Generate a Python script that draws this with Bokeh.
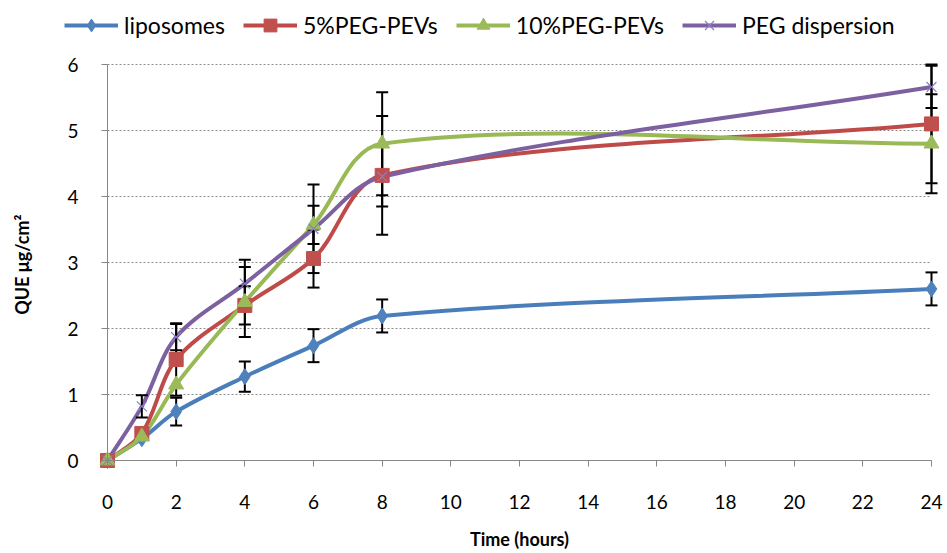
import numpy as np
from bokeh.plotting import figure
from bokeh.models import Range1d, FixedTicker, ColumnDataSource, Legend, LegendItem
from bokeh.embed import file_html
from bokeh.resources import INLINE

# ---------------- data ----------------
time_h = [0, 1, 2, 4, 6, 8, 24]
liposomes = [0, 0.33, 0.74, 1.27, 1.74, 2.19, 2.60]
peg5 = [0, 0.41, 1.53, 2.35, 3.06, 4.32, 5.10]
peg10 = [0, 0.36, 1.15, 2.40, 3.57, 4.80, 4.80]
peg_disp = [0, 0.82, 1.87, 2.68, 3.51, 4.30, 5.66]

lipo_err = [0, 0, 0.21, 0.23, 0.25, 0.25, 0.25]
peg5_err = [0, 0, 0.55, 0.29, 0.44, 0.90, 0.90]
peg10_err = [0, 0, 0, 0.53, 0.29, 0.78, 0.75]
disp_err = [0, 0.17, 0.20, 0.36, 0.67, 0.45, 0.32]

series_names = ["liposomes", "5%PEG-PEVs", "10%PEG-PEVs", "PEG dispersion"]
x_ticks = [0, 2, 4, 6, 8, 10, 12, 14, 16, 18, 20, 22, 24]
y_ticks = [0, 1, 2, 3, 4, 5, 6]

FONT = "Lato"
W, H = 947, 553
# layout: plot area (axis extents) spans px 107..931 horizontally, 64..460 vertically
LEFT, RIGHT, TOP, BOTTOM = 107, 931, 64, 460
PX = (RIGHT - LEFT) / (x_ticks[-1] - x_ticks[0])
PY = (BOTTOM - TOP) / (y_ticks[-1] - y_ticks[0])

p = figure(width=W, height=H, output_backend="svg", toolbar_location=None,
           x_range=Range1d(x_ticks[0] - LEFT / PX, x_ticks[-1] + (W - RIGHT) / PX),
           y_range=Range1d(y_ticks[0] - (H - BOTTOM) / PY, y_ticks[-1] + TOP / PY),
           min_border_left=0, min_border_right=0, min_border_top=0, min_border_bottom=0)
p.outline_line_color = None
p.background_fill_color = "white"
p.border_fill_color = "white"
p.xgrid.visible = False
p.ygrid.visible = False

for ax in (p.xaxis[0], p.yaxis[0]):
    ax.fixed_location = 0
    ax.axis_line_color = "#868686"
    ax.major_tick_line_color = "#868686"
    ax.minor_tick_line_color = None
    ax.major_tick_in = 0
    ax.major_tick_out = 6
    ax.major_label_text_font = FONT
    ax.major_label_text_font_size = "19px"
    ax.major_label_text_color = "black"
    ax.axis_label_text_font = FONT
    ax.axis_label_text_font_size = "18px"
    ax.axis_label_text_font_style = "bold"
    ax.axis_label_text_color = "black"

p.xaxis.ticker = FixedTicker(ticks=x_ticks)
p.yaxis.ticker = FixedTicker(ticks=y_ticks)
p.xaxis.bounds = (x_ticks[0], x_ticks[-1])
p.yaxis.bounds = (y_ticks[0], y_ticks[-1])
p.xaxis.major_label_standoff = 28
p.yaxis.major_label_standoff = 23
p.xaxis.axis_label = "Time (hours)"
p.yaxis.axis_label = "QUE  μg/cm²"
p.xaxis.axis_label_standoff = 16
p.yaxis.axis_label_standoff = 31

# horizontal dotted grid lines, spanning the x axis extent only
n_g = len(y_ticks) - 1
gsrc = ColumnDataSource(dict(x0=[x_ticks[0]] * n_g, x1=[x_ticks[-1]] * n_g, y=y_ticks[1:]))
p.segment(x0="x0", y0="y", x1="x1", y1="y", source=gsrc, line_color="#8c8c8c",
          line_dash="2 2", line_width=1, level="underlay")


def smooth_bezier(xs, ys):
    P = np.column_stack([np.array(xs, float), np.array(ys, float)])
    S = np.array([PX, PY])
    n = len(P)
    cin = np.zeros_like(P)
    cout = np.zeros_like(P)
    for i in range(n):
        prev = P[i - 1] if i > 0 else P[i]
        nxt = P[i + 1] if i < n - 1 else P[i]
        d = nxt - prev
        lin = np.linalg.norm((P[i] - prev) * S)
        lout = np.linalg.norm((nxt - P[i]) * S)
        tot = lin + lout
        cout[i] = P[i] + d * (1 / 3) * (lout / tot)
        cin[i] = P[i] - d * (1 / 3) * (lin / tot)
    return dict(x0=P[:-1, 0], y0=P[:-1, 1], x1=P[1:, 0], y1=P[1:, 1],
                cx0=cout[:-1, 0], cy0=cout[:-1, 1], cx1=cin[1:, 0], cy1=cin[1:, 1])


line_colors = ["#4A7EBB", "#BE4B48", "#98B954", "#7D60A0"]
marker_colors = ["#4F81BD", "#C0504D", "#9BBB59", "#8E7CC3"]
markers = ["diamond", "square", "triangle", "x"]
msizes = [16, 14, 15, 14]
values = [liposomes, peg5, peg10, peg_disp]
errors = [lipo_err, peg5_err, peg10_err, disp_err]

# smoothed lines
line_renderers = []
for vals, lc in zip(values, line_colors):
    src = ColumnDataSource(smooth_bezier(time_h, vals))
    r = p.bezier(x0="x0", y0="y0", x1="x1", y1="y1", cx0="cx0", cy0="cy0", cx1="cx1", cy1="cy1",
                 source=src, line_color=lc, line_width=4)
    line_renderers.append(r)

# error bars
for vals, errs in zip(values, errors):
    xs = [t for t, e in zip(time_h, errs) if e > 0]
    lo = [v - e for v, e in zip(vals, errs) if e > 0]
    hi = [v + e for v, e in zip(vals, errs) if e > 0]
    src = ColumnDataSource(dict(x=xs, lo=lo, hi=hi))
    p.segment(x0="x", y0="lo", x1="x", y1="hi", source=src, line_color="black", line_width=2)
    p.scatter(x="x", y="lo", source=src, marker="dash", size=12, line_color="black", line_width=2)
    p.scatter(x="x", y="hi", source=src, marker="dash", size=12, line_color="black", line_width=2)

# markers + legend
items = []
for name, vals, lr, mc, mk, ms in zip(series_names, values, line_renderers, marker_colors, markers, msizes):
    src = ColumnDataSource(dict(x=time_h, y=vals))
    if mk == "x":
        mr = p.scatter(x="x", y="y", source=src, marker=mk, size=ms, line_color=mc, line_width=1.2)
    else:
        mr = p.scatter(x="x", y="y", source=src, marker=mk, size=ms, fill_color=mc, line_color=mc)
    items.append(LegendItem(label=name, renderers=[lr, mr]))

legend = Legend(items=items, orientation="horizontal", location=(64, H - 9 - 32),
                glyph_width=54, glyph_height=32, label_standoff=6, spacing=18,
                padding=0, margin=0, border_line_color=None, background_fill_alpha=0,
                label_text_font=FONT, label_text_font_size="23px", label_text_color="black")
p.add_layout(legend, "center")

html = file_html(p, INLINE)
open("out.html", "w").write(html)
